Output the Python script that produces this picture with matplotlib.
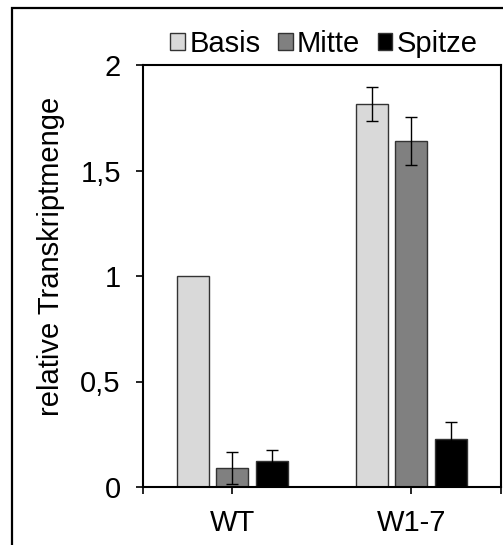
import numpy as np
import matplotlib
matplotlib.use("Agg")
import matplotlib.pyplot as plt
from matplotlib.patches import Patch, Rectangle

plt.rcParams['font.family'] = ['Liberation Sans', 'DejaVu Sans']

# Daten
groups = ['WT', 'W1-7']
series = ['Basis', 'Mitte', 'Spitze']
basis = [1.0, 1.815]
mitte = [0.089, 1.64]
spitze = [0.122, 0.227]
basis_err = [0.0, 0.08]
mitte_err = [0.077, 0.115]
spitze_err = [0.052, 0.08]

values = [basis, mitte, spitze]
errors = [basis_err, mitte_err, spitze_err]
colors = ['#d9d9d9', '#808080', '#000000']

fs = 21

fig = plt.figure(figsize=(5.03, 5.45), dpi=100)
ax = fig.add_axes([143 / 503, 1 - 487 / 545, (500.7 - 143) / 503, (487 - 65) / 545])

x = np.arange(len(groups)) + 0.5
width = 0.179
step = 0.221
for i, (vals, errs, col) in enumerate(zip(values, errors, colors)):
    pos = x + (i - 1) * step
    ax.bar(pos, vals, width, color=col, edgecolor='#333333', linewidth=1.0, zorder=2)
    mask = [e > 0 for e in errs]
    ax.errorbar(pos[mask], np.array(vals)[mask], yerr=np.array(errs)[mask],
                fmt='none', ecolor='black', elinewidth=1.0, capsize=4.3,
                capthick=1.0, zorder=3)

ax.set_xlim(0, 2)
ax.set_ylim(0, 2)
ax.set_yticks([0, 0.5, 1, 1.5, 2])
ax.set_yticklabels(['0', '0,5', '1', '1,5', '2'], fontsize=fs)
ax.set_xticks([0, 0.5, 1.5, 2])
ax.set_xticklabels(['', 'WT', 'W1-7', ''], fontsize=fs)
ax.tick_params(axis='both', direction='out', length=5, width=1.2, color='black')
ax.tick_params(axis='y', pad=11)
ax.tick_params(axis='x', pad=11)
for sp in ax.spines.values():
    sp.set_linewidth(1.5)
    sp.set_color('black')

fig.text(51 / 503, 1 - 256 / 545, 'relative Transkriptmenge', rotation=90,
         ha='center', va='center', fontsize=fs)

handles = [Patch(facecolor=c, edgecolor='#333333', linewidth=1.0) for c in colors]
fig.legend(handles, series, loc='center', bbox_to_anchor=(324 / 503, 1 - 44 / 545),
           ncol=3, frameon=False, fontsize=fs, handlelength=0.5, handleheight=0.5,
           handletextpad=0.15, columnspacing=0.6, borderaxespad=0)

# äußerer Rahmen (rechts/unten abgeschnitten)
fig.patches.append(Rectangle((12 / 503, -0.1), 1.2, 1 - 8 / 545 + 0.1,
                             transform=fig.transFigure, fill=False,
                             edgecolor='black', linewidth=1.6))

fig.savefig('out.png', dpi=100)
